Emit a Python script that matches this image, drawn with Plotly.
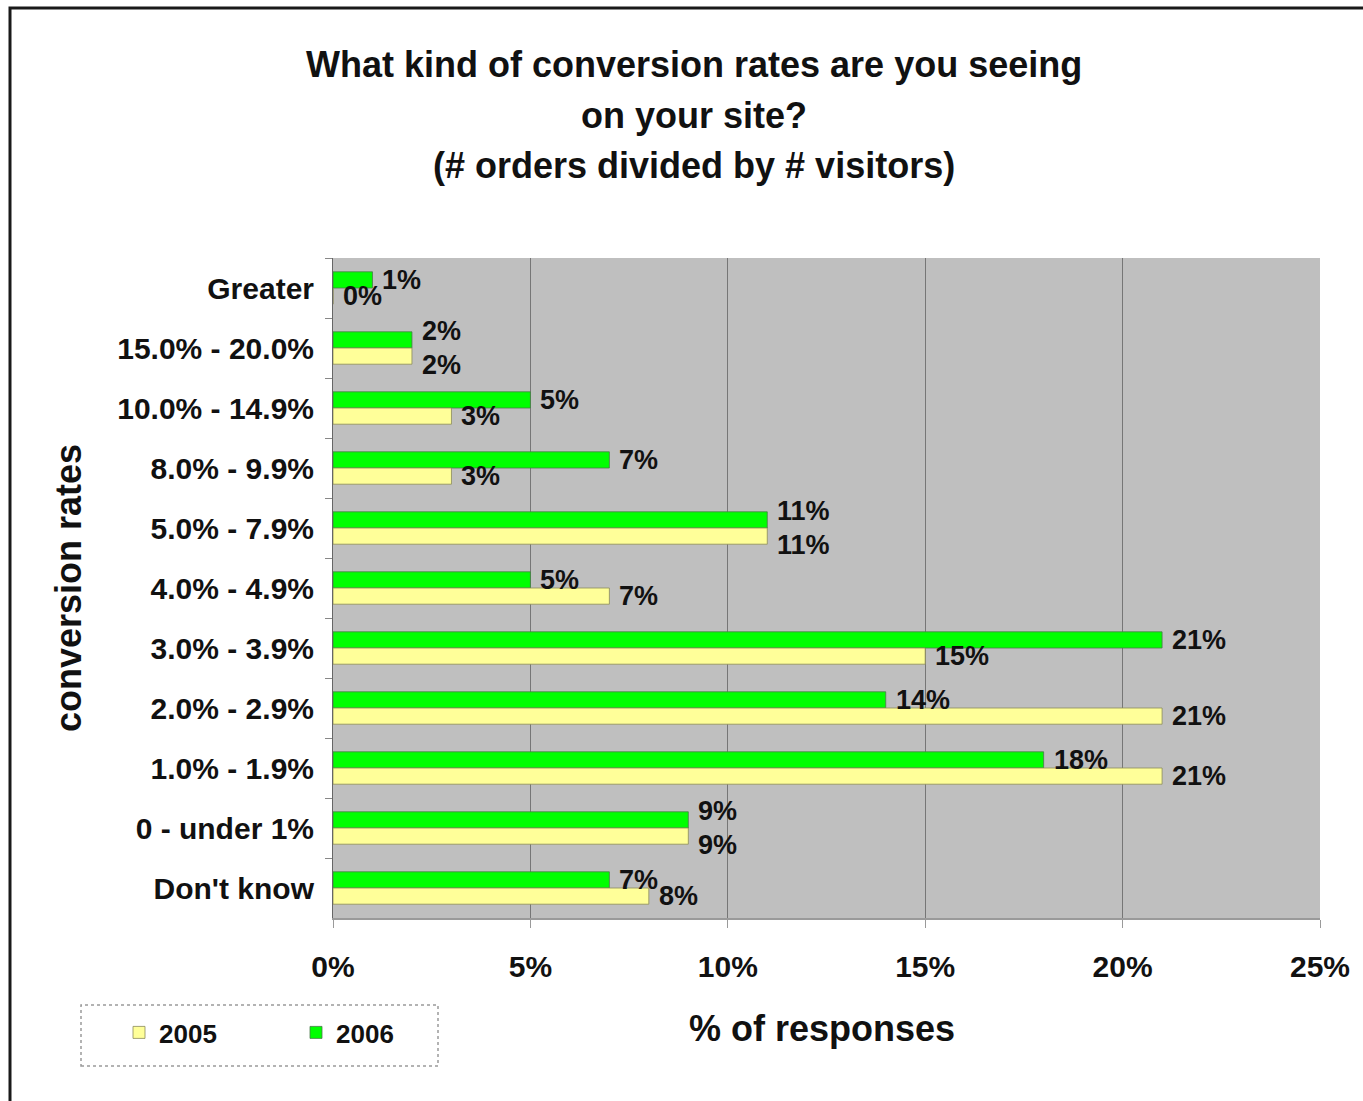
import plotly.graph_objects as go

categories = ["Greater", "15.0% - 20.0%", "10.0% - 14.9%", "8.0% - 9.9%", "5.0% - 7.9%",
              "4.0% - 4.9%", "3.0% - 3.9%", "2.0% - 2.9%", "1.0% - 1.9%", "0 - under 1%",
              "Don't know"]
values_2006 = [1, 2, 5, 7, 11, 5, 21, 14, 18, 9, 7]
values_2005 = [0, 2, 3, 3, 11, 7, 15, 21, 21, 9, 8]
x_ticks = [0, 5, 10, 15, 20, 25]
x_tick_labels = ["0%", "5%", "10%", "15%", "20%", "25%"]
title_lines = ["What kind of conversion rates are you seeing", "on your site?",
               "(# orders divided by # visitors)"]

W, H = 1363, 1101
L, R, T, B = 333, 1320, 258, 918
FONT = "Liberation Sans, Arial, sans-serif"


def px_x(p):
    return (p - L) / (R - L)


def px_y(p):
    return (B - p) / (B - T)


label_font = dict(family=FONT, size=27, color="#111", weight="bold")

fig = go.Figure()
fig.add_trace(go.Bar(
    y=categories, x=values_2006, orientation="h", name="2006",
    marker=dict(color="#00ff00", line=dict(color="#4a7a4a", width=0.8)),
    legendrank=2,
))
fig.add_trace(go.Bar(
    y=categories, x=values_2005, orientation="h", name="2005",
    marker=dict(color="#ffff99", line=dict(color="#8a8a5a", width=0.8)),
    legendrank=1,
))

annotations = []
# value labels: placed at each bar's end; green bar sits above category centre, yellow below
for cat, v6, v5 in zip(categories, values_2006, values_2005):
    tie = v6 == v5
    for v, shift in ((v6, 17 if tie else 8), (v5, -17 if tie else -8)):
        annotations.append(dict(
            x=v, y=cat, xref="x", yref="y", text=f"{v}%", showarrow=False,
            xanchor="left", yanchor="middle", xshift=8, yshift=shift,
            font=label_font))

for line, ypx in zip(title_lines, [65, 115, 165]):
    annotations.append(dict(
        text=line, x=px_x(694), y=px_y(ypx), xref="paper", yref="paper",
        xanchor="center", yanchor="middle", showarrow=False,
        font=dict(family=FONT, size=36, color="#111", weight="bold")))
annotations.append(dict(
    text="conversion rates", x=px_x(68), y=px_y(588), xref="paper", yref="paper",
    xanchor="center", yanchor="middle", showarrow=False, textangle=-90,
    font=dict(family=FONT, size=36, color="#111", weight="bold")))
annotations.append(dict(
    text="% of responses", x=px_x(822), y=px_y(1028), xref="paper", yref="paper",
    xanchor="center", yanchor="middle", showarrow=False,
    font=dict(family=FONT, size=36, color="#111", weight="bold")))

shapes = [
    dict(type="rect", xref="paper", yref="paper",
         x0=px_x(10), x1=px_x(1380), y0=px_y(1120), y1=px_y(8),
         line=dict(color="#1a1a1a", width=3), fillcolor="rgba(0,0,0,0)", layer="below"),
    dict(type="rect", xref="paper", yref="paper",
         x0=px_x(81), x1=px_x(438), y0=px_y(1066), y1=px_y(1005),
         line=dict(color="#9a9a9a", width=1.5, dash="dot"), fillcolor="rgba(0,0,0,0)"),
]

fig.update_layout(
    width=W, height=H,
    margin=dict(l=L, r=W - R, t=T, b=H - B, pad=0),
    paper_bgcolor="white", plot_bgcolor="#bfbfbf",
    barmode="group", bargap=0.46, bargroupgap=0,
    font=dict(family=FONT, color="#111"),
    annotations=annotations, shapes=shapes,
    legend=dict(orientation="h", x=px_x(119), y=px_y(1009), xanchor="left", yanchor="top",
                font=dict(family=FONT, size=26, color="#111", weight="bold"),
                entrywidth=132, entrywidthmode="pixels", bgcolor="rgba(0,0,0,0)",
                borderwidth=0, traceorder="normal"),
    showlegend=True,
)
fig.update_xaxes(
    range=[0, 25], tickvals=x_ticks, ticktext=x_tick_labels,
    showgrid=True, gridcolor="#767676", gridwidth=1, zeroline=False,
    showline=True, linecolor="#9a9a9a", linewidth=2,
    ticks="outside", ticklen=8, tickcolor="#9a9a9a", ticklabelstandoff=13,
    tickfont=dict(family=FONT, size=30, color="#111", weight="bold"),
)
fig.update_yaxes(
    categoryorder="array", categoryarray=categories, autorange="reversed",
    showgrid=False, zeroline=False, showline=True, linecolor="#666", linewidth=1,
    ticks="outside", tickson="boundaries", ticklen=7, tickcolor="#888",
    ticklabelstandoff=12,
    tickfont=dict(family=FONT, size=30, color="#111", weight="bold"),
)

fig.write_html("out.html")
